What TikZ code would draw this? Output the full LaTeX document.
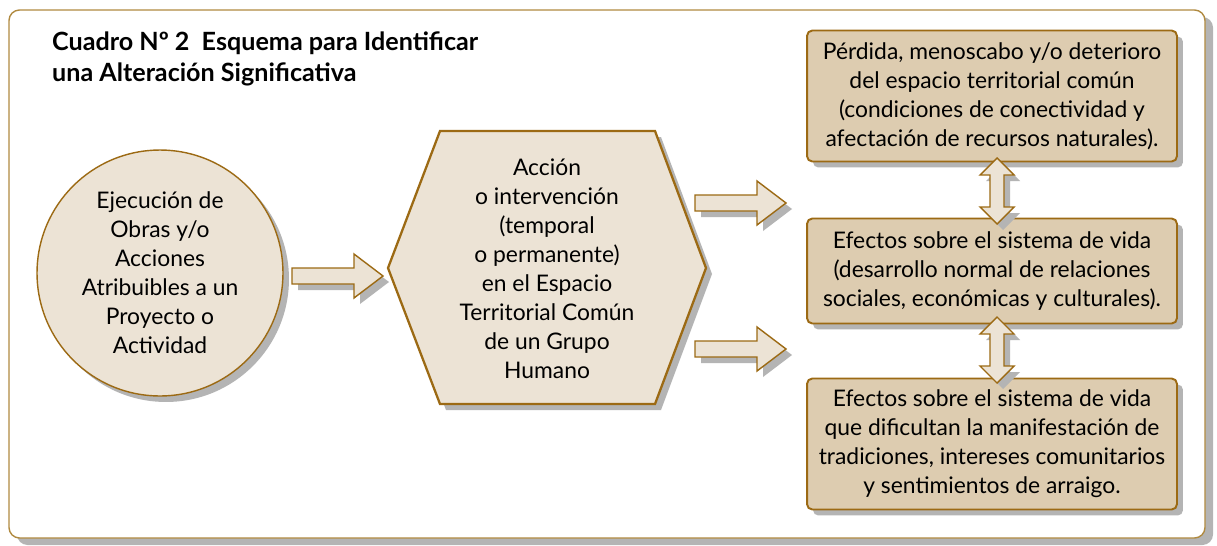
\documentclass[tikz,border=0pt]{standalone}
\usepackage{fontspec}
\setmainfont{Lato}
\usetikzlibrary{shadows}
\definecolor{marron}{HTML}{9C6A14}
\definecolor{marco}{HTML}{B08A40}
\definecolor{crema}{HTML}{ECE3D5}
\definecolor{tostado}{HTML}{DDCCB0}
\definecolor{sombra}{HTML}{B4B4B4}
\tikzset{
  sombrabox/.style={drop shadow={shadow xshift=0.12cm, shadow yshift=-0.12cm, fill=sombra, opacity=1}},
  circbox/.style={circle, draw=marron, thick, fill=crema, sombrabox, minimum size=4.92cm, align=center, inner sep=0pt},
  cajabox/.style={rectangle, rounded corners=3pt, draw=marron, line width=1.1pt, fill=tostado, sombrabox, minimum width=7.4cm, align=center, inner sep=0pt},
  flecha/.style={draw=marron, thick, fill=crema, sombrabox},
  texto/.style={align=center, font=\fontsize{13}{16.5}\selectfont}
}
\begin{document}
\begin{tikzpicture}[x=0.02cm, y=-0.02cm]
\useasboundingbox (0,0) rectangle (1217,545);

% marco
\draw[draw=marco, thick, fill=white, rounded corners=6pt,
  drop shadow={shadow xshift=0.16cm, shadow yshift=-0.14cm, fill=sombra, opacity=1}]
  (9,10) rectangle (1205,538);
\node[anchor=north west, align=left, font=\bfseries\fontsize{14.3}{17.5}\selectfont] (titulo) at (46,26)
  {Cuadro Nº 2\ \ Esquema para Identificar\\una Alteración Significativa};

% circulo
\node[circbox, texto] (obras) at (160,273)
  {Ejecución de\\Obras y/o\\Acciones\\Atribuibles a un\\Proyecto o\\Actividad};

% hexagono
\draw[draw=marron, line width=1.3pt, fill=crema, sombrabox]
  (388,268) -- (440,131) -- (655,131) -- (706,268) -- (655,404) -- (440,404) -- cycle;
\node[texto] (accion) at (547,269)
  {Acción\\o intervención\\(temporal\\o permanente)\\en el Espacio\\Territorial Común\\de un Grupo\\Humano};

% cajas
\node[cajabox, texto, minimum height=2.62cm] (perdida) at (992,96)
  {Pérdida, menoscabo y/o deterioro\\del espacio territorial común\\(condiciones de conectividad y\\afectación de recursos naturales).};
\node[cajabox, texto, minimum height=2.1cm] (efectos) at (992,271)
  {Efectos sobre el sistema de vida\\(desarrollo normal de relaciones\\sociales, económicas y culturales).};
\node[cajabox, texto, minimum height=2.62cm] (arraigo) at (992,444)
  {Efectos sobre el sistema de vida\\que dificultan la manifestación de\\tradiciones, intereses comunitarios\\y sentimientos de arraigo.};

% flechas simples
\foreach \x/\y in {292/276, 695/203, 695/349}
  \draw[flecha] (\x,\y) ++(0,-8) -- ++(62,0) -- ++(0,-14) -- ++(29,22)
    -- ++(-29,22) -- ++(0,-14) -- ++(-62,0) -- cycle;

% flechas dobles
\foreach \y in {158, 317}
  \draw[flecha] (997,\y) -- ++(17,17) -- ++(-10,0) -- ++(0,32) -- ++(10,0)
    -- ++(-17,17) -- ++(-17,-17) -- ++(10,0) -- ++(0,-32) -- ++(-10,0) -- cycle;
\end{tikzpicture}
\end{document}
